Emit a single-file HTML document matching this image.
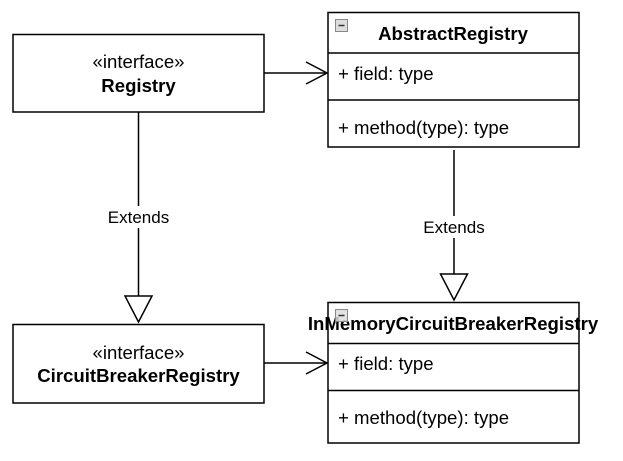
<!DOCTYPE html>
<html><head><meta charset="utf-8"><style>
html,body{margin:0;padding:0;background:#fff;}
svg{display:block;font-family:"Liberation Sans",Arial,sans-serif;}
</style></head><body>
<svg width="623" height="461" viewBox="0 0 623 461" xmlns="http://www.w3.org/2000/svg">
<g fill="none" stroke="#000" stroke-width="1.5">
  <rect x="13" y="34.5" width="251" height="77.5" fill="#fff"/>
  <rect x="13" y="324.5" width="251" height="78.5" fill="#fff"/>
  <rect x="328" y="12.5" width="251" height="134.5" fill="#fff"/>
  <line x1="328" y1="53" x2="579" y2="53"/>
  <line x1="328" y1="100" x2="579" y2="100"/>
  <rect x="328" y="302.5" width="251" height="140.5" fill="#fff"/>
  <line x1="328" y1="343.5" x2="579" y2="343.5"/>
  <line x1="328" y1="390.5" x2="579" y2="390.5"/>
  <line x1="264" y1="73" x2="327" y2="73"/>
  <polyline points="306,62 327,73 306,84"/>
  <line x1="264" y1="363" x2="327" y2="363"/>
  <polyline points="306,352 327,363 306,374"/>
  <line x1="138.5" y1="112" x2="138.5" y2="296"/>
  <polygon points="125,296 152,296 138.5,322" fill="#fff"/>
  <line x1="454" y1="150" x2="454" y2="274"/>
  <polygon points="440.5,274 467.5,274 454,300" fill="#fff"/>
</g>
<rect x="104" y="206" width="70" height="22" fill="#fff"/>
<rect x="419" y="216" width="70" height="22" fill="#fff"/>
<g font-size="17" text-anchor="middle" fill="#000">
  <text x="138.5" y="223">Extends</text>
  <text x="454" y="233">Extends</text>
</g>
<g font-size="18.6" text-anchor="middle" fill="#000">
  <text x="138.5" y="68">«interface»</text>
  <text x="138.5" y="92" font-weight="bold">Registry</text>
  <text x="138.5" y="359">«interface»</text>
  <text x="138.5" y="382" font-weight="bold">CircuitBreakerRegistry</text>
  <text x="453" y="40" font-weight="bold">AbstractRegistry</text>
  <text x="453" y="330" font-weight="bold">InMemoryCircuitBreakerRegistry</text>
</g>
<g font-size="18.6" fill="#000">
  <text x="338" y="80">+ field: type</text>
  <text x="338" y="134">+ method(type): type</text>
  <text x="338" y="370">+ field: type</text>
  <text x="338" y="424">+ method(type): type</text>
</g>
<g>
  <rect x="335.5" y="19.5" width="12" height="12" fill="#ddd" stroke="#888"/>
  <line x1="338.5" y1="25.5" x2="344.5" y2="25.5" stroke="#333" stroke-width="1.5"/>
  <rect x="335.5" y="309.5" width="12" height="12" fill="#ddd" stroke="#888" fill-opacity="0.85"/>
  <line x1="338.5" y1="315.5" x2="344.5" y2="315.5" stroke="#333" stroke-width="1.5"/>
</g>
</svg>
</body></html>
